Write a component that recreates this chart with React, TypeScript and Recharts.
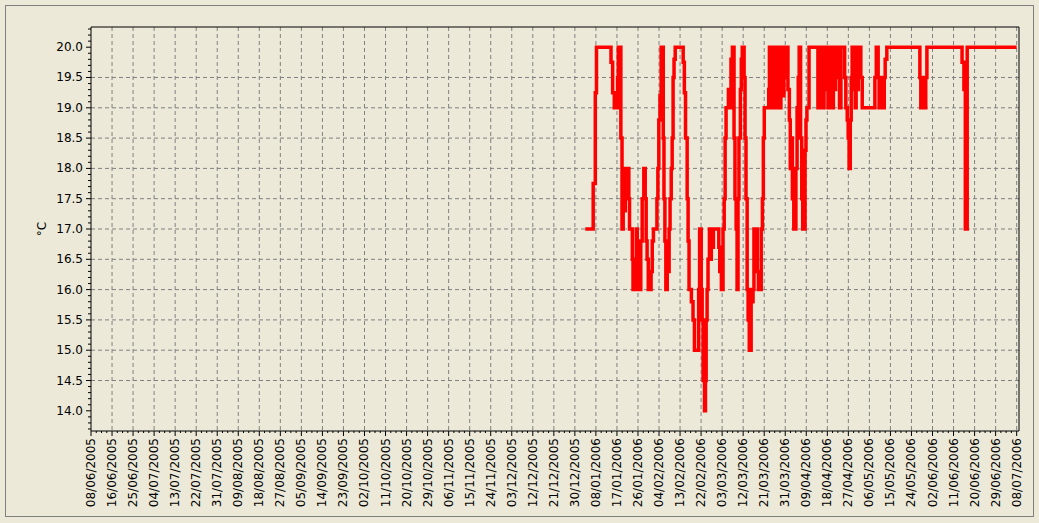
import React from 'react';
import { LineChart, Line, XAxis, YAxis, CartesianGrid, ReferenceArea } from 'recharts';

// Tick labels of the date axis (evenly spaced over the period)
const dateLabels = [
  '08/06/2005', '16/06/2005', '25/06/2005', '04/07/2005', '13/07/2005', '22/07/2005',
  '31/07/2005', '09/08/2005', '18/08/2005', '27/08/2005', '05/09/2005', '14/09/2005',
  '23/09/2005', '02/10/2005', '11/10/2005', '20/10/2005', '29/10/2005', '06/11/2005',
  '15/11/2005', '24/11/2005', '03/12/2005', '12/12/2005', '21/12/2005', '30/12/2005',
  '08/01/2006', '17/01/2006', '26/01/2006', '04/02/2006', '13/02/2006', '22/02/2006',
  '03/03/2006', '12/03/2006', '21/03/2006', '31/03/2006', '09/04/2006', '18/04/2006',
  '27/04/2006', '06/05/2006', '15/05/2006', '24/05/2006', '02/06/2006', '11/06/2006',
  '20/06/2006', '29/06/2006', '08/07/2006',
];
const spanDays = 395; // 08/06/2005 -> 08/07/2006
const axisEndDay = 396;

// Series: day offset from 08/06/2005 and temperature in °C
const seriesDays = [
  210.9, 214.3, 215.2, 215.7, 221.9, 222.6, 223.3, 223.9, 224.3, 224.7, 225.0, 225.4, 225.8, 226.1, 226.6,
  227.1, 227.5, 228.0, 228.4, 228.8, 229.5, 229.8, 231.0, 231.3, 231.8, 232.2, 232.7, 233.1, 233.5, 233.9,
  234.6, 235.2, 235.9, 236.5, 236.9, 237.3, 237.8, 239.0, 239.5, 240.0, 241.5, 241.9, 242.3, 242.8, 243.3,
  244.2, 244.5, 244.9, 245.3, 245.9, 246.3, 246.7, 247.1, 247.6, 248.0, 248.4, 248.8, 249.3, 252.7, 253.2,
  253.7, 254.4, 254.8, 255.2, 256.2, 256.9, 257.5, 259.3, 259.7, 260.4, 260.8, 261.2, 261.8, 262.2, 262.5,
  262.9, 263.3, 263.9, 264.3, 264.7, 265.2, 265.6, 267.9, 268.3, 269.0, 269.7, 270.2, 270.6, 271.0, 272.0,
  272.6, 273.1, 273.7, 274.4, 274.8, 275.3, 275.7, 276.1, 276.5, 277.1, 277.5, 277.9, 278.7, 279.1, 279.5,
  280.0, 280.4, 280.9, 281.7, 282.1, 282.5, 282.9, 283.5, 283.9, 284.3, 284.8, 286.0, 286.5, 286.9, 287.3,
  289.2, 289.5, 289.8, 290.2, 290.6, 291.0, 291.5, 291.9, 292.3, 292.7, 293.2, 293.6, 294.0, 294.4, 294.9,
  295.3, 295.7, 296.1, 296.6, 297.4, 298.0, 298.4, 298.8, 299.3, 299.9, 300.8, 301.3, 301.8, 302.2, 302.8,
  303.3, 303.7, 304.7, 305.1, 305.5, 306.4, 310.2, 310.6, 311.1, 311.7, 312.1, 312.8, 313.5, 314.0, 314.5,
  314.9, 315.3, 315.8, 316.2, 316.8, 317.2, 317.7, 318.3, 318.7, 319.4, 320.0, 321.6, 322.1, 322.7, 323.1,
  323.5, 324.0, 324.4, 324.8, 325.3, 325.7, 326.1, 326.5, 327.0, 327.4, 327.8, 328.1, 328.5, 329.1, 334.5,
  335.1, 335.9, 336.3, 337.5, 337.9, 338.5, 338.9, 339.6, 353.7, 354.1, 354.9, 355.4, 356.2, 356.7, 371.7,
  372.5, 373.1, 373.9, 395.0,
];
const seriesTemps = [
  17.0, 17.75, 19.25, 20.0, 19.75, 19.25, 19.0, 19.25, 19.0, 19.5, 20.0, 19.0, 20.0, 18.5, 17.0,
  18.0, 17.3, 18.0, 17.5, 18.0, 17.5, 17.0, 16.5, 16.0, 16.5, 16.0, 17.0, 16.0, 16.5, 16.0,
  16.8, 17.5, 18.0, 17.5, 16.8, 16.5, 16.0, 16.3, 16.8, 17.0, 17.5, 18.0, 18.8, 19.2, 20.0,
  18.5, 17.5, 16.8, 16.0, 16.8, 16.3, 17.0, 17.5, 18.0, 18.5, 19.5, 19.8, 20.0, 19.75, 19.25,
  18.5, 17.5, 16.8, 16.0, 15.8, 15.5, 15.0, 16.0, 17.0, 16.0, 15.5, 14.5, 14.0, 14.5, 15.5,
  16.0, 16.5, 17.0, 16.5, 17.0, 16.7, 17.0, 16.7, 16.3, 16.0, 17.0, 17.5, 18.5, 19.0, 19.3,
  19.0, 19.8, 20.0, 18.5, 17.5, 17.0, 16.0, 17.5, 18.5, 19.3, 19.8, 20.0, 19.5, 18.5, 17.5,
  16.0, 15.5, 15.0, 16.0, 15.8, 16.0, 17.0, 16.5, 17.0, 16.3, 16.0, 17.0, 17.5, 18.5, 19.0,
  19.3, 20.0, 19.3, 20.0, 19.0, 20.0, 19.5, 20.0, 19.0, 20.0, 19.3, 20.0, 19.0, 19.5, 20.0,
  19.2, 20.0, 19.5, 20.0, 19.3, 18.8, 18.0, 18.5, 17.5, 17.0, 18.0, 19.0, 19.5, 20.0, 18.5,
  17.5, 17.0, 18.3, 18.8, 19.0, 20.0, 19.0, 20.0, 19.0, 20.0, 19.0, 20.0, 19.3, 20.0, 19.0,
  20.0, 19.5, 20.0, 19.0, 20.0, 19.3, 20.0, 19.5, 20.0, 19.0, 20.0, 19.5, 19.0, 18.8, 18.5,
  18.0, 18.8, 19.5, 20.0, 19.3, 20.0, 19.0, 20.0, 19.3, 20.0, 19.5, 20.0, 19.5, 19.0, 19.5,
  20.0, 19.5, 19.0, 19.5, 19.0, 19.5, 19.8, 20.0, 19.5, 19.0, 19.5, 19.0, 19.5, 20.0, 19.75,
  19.3, 17.0, 20.0, 20.0,
];

const yMin = 13.6667;
const yMax = 20.3333;
const yGridValues = [14.5, 15.0, 15.5, 16.0, 16.5, 17.0, 17.5, 18.0, 18.5, 19.0, 19.5];

const data = seriesDays.map((d, i) => ({ day: d, temp: seriesTemps[i] }));

const step = spanDays / (dateLabels.length - 1);
const xMajor = dateLabels.map((_, i) => i * step);
const xMinorPer = 3;
const xTicks: number[] = [];
xMajor.forEach((v, i) => {
  xTicks.push(v);
  if (i < xMajor.length - 1) {
    for (let k = 1; k <= xMinorPer; k++) xTicks.push(v + (k * step) / (xMinorPer + 1));
  }
});
const yTicks: number[] = [];
for (let k = 137; k <= 203; k++) yTicks.push(k / 10);

const FONT = '"DejaVu Sans", Verdana, sans-serif';

const XTick = (props: any) => {
  const { x, y, payload } = props;
  const v = payload.value as number;
  const idx = Math.round(v / step);
  const major = Math.abs(v - idx * step) < 1e-6;
  return (
    <g>
      <line x1={x} x2={x} y1={y} y2={y + (major ? 5 : 2)} stroke="#000" strokeWidth={1} />
      {major && (
        <text
          x={x}
          y={y + 7}
          transform={`rotate(-90 ${x} ${y + 7})`}
          textAnchor="end"
          dominantBaseline="central"
          fontSize={12}
          fontFamily={FONT}
          fill="#000"
        >
          {dateLabels[idx]}
        </text>
      )}
    </g>
  );
};

const YTick = (props: any) => {
  const { x, y, payload } = props;
  const v = payload.value as number;
  const major = Math.abs(v * 2 - Math.round(v * 2)) < 1e-6;
  return (
    <g>
      <line x1={x - (major ? 5 : 3)} x2={x} y1={y} y2={y} stroke="#000" strokeWidth={1} />
      {major && (
        <text
          x={x - 8}
          y={y}
          textAnchor="end"
          dominantBaseline="central"
          fontSize={12}
          fontFamily={FONT}
          fill="#000"
        >
          {v.toFixed(1)}
        </text>
      )}
    </g>
  );
};

export default function App() {
  return (
    <div
      style={{
        position: 'absolute',
        left: 0,
        top: 0,
        width: 1039,
        height: 523,
        background: '#ECE9D8',
        overflow: 'hidden',
      }}
    >
      <div
        style={{
          position: 'absolute',
          left: 5,
          top: 5,
          width: 1029,
          height: 512,
          border: '1px solid #7f7f7f',
          boxSizing: 'border-box',
        }}
      />
      <div style={{ position: 'absolute', left: 0, top: 0 }}>
        <LineChart
          width={1039}
          height={523}
          data={data}
          margin={{ top: 27, right: 20, bottom: 0, left: 0 }}
        >
          <CartesianGrid
            stroke="#808080"
            strokeDasharray="4 3"
            horizontalValues={yGridValues}
            verticalValues={xMajor.slice(1)}
          />
          <XAxis
            dataKey="day"
            type="number"
            domain={[0, axisEndDay]}
            ticks={xTicks}
            interval={0}
            height={92}
            tickSize={0}
            tickMargin={0}
            tickLine={false}
            axisLine={false}
            tick={<XTick />}
            allowDataOverflow
          />
          <YAxis
            type="number"
            domain={[yMin, yMax]}
            ticks={yTicks}
            interval={0}
            width={91}
            tickSize={0}
            tickMargin={0}
            tickLine={false}
            axisLine={false}
            tick={<YTick />}
            allowDataOverflow
            label={{
              value: '°C',
              angle: -90,
              position: 'center',
              dx: -4,
              style: { fontSize: 12, fontFamily: FONT, fill: '#000' },
            }}
          />
          <ReferenceArea
            x1={0}
            x2={axisEndDay}
            y1={yMin}
            y2={yMax}
            fill="none"
            fillOpacity={0}
            stroke="#000"
            strokeWidth={1}
            ifOverflow="visible"
          />
          <Line
            dataKey="temp"
            type="stepAfter"
            stroke="#ff0000"
            strokeWidth={3.5}
            dot={false}
            activeDot={false}
            isAnimationActive={false}
          />
        </LineChart>
      </div>
    </div>
  );
}
